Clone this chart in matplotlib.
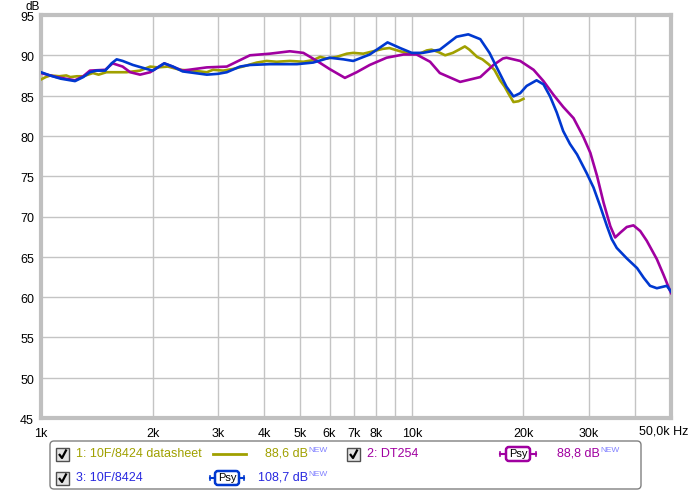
import matplotlib
matplotlib.use("Agg")
import matplotlib.pyplot as plt
import matplotlib.transforms as mtransforms
from matplotlib.patches import Rectangle, FancyBboxPatch

plt.rcParams['font.family'] = ['Liberation Sans', 'DejaVu Sans']

# --- data (frequency in Hz, level in dB) ---
datasheet_f = [1000, 1030, 1060, 1120, 1170, 1200, 1250, 1300, 1380, 1430, 1500, 1600, 1700,
               1850, 1970, 2060, 2200, 2370, 2570, 2800, 2910, 3100, 3290, 3500, 3820, 4060,
               4320, 4690, 5100, 5420, 5660, 5900, 6270, 6680, 6950, 7400, 7870, 8350, 8700,
               9300, 9900, 10500, 10970, 11300, 11800, 12300, 12900, 13400, 13900, 14300,
               15000, 15500, 16100, 16700, 17300, 17800, 18200, 18800, 19400, 20000]
datasheet_db = [87.0, 87.3, 87.5, 87.4, 87.5, 87.3, 87.4, 87.4, 87.8, 87.6, 87.9, 87.9, 87.9,
                88.1, 88.6, 88.5, 88.6, 88.2, 88.1, 87.9, 88.2, 88.1, 88.3, 88.6, 89.1, 89.3,
                89.2, 89.3, 89.2, 89.4, 89.8, 89.6, 89.8, 90.2, 90.3, 90.2, 90.5, 90.8, 90.9,
                90.5, 90.2, 90.2, 90.6, 90.7, 90.4, 90.0, 90.3, 90.7, 91.1, 90.7,
                89.8, 89.5, 88.9, 88.2, 86.9, 86.1, 85.3, 84.2, 84.3, 84.6]

dt254_f = [1000, 1100, 1235, 1300, 1355, 1490, 1560, 1660, 1740, 1850, 1970, 2150, 2410, 2800,
           3170, 3440, 3660, 4140, 4690, 5100, 5550, 6000, 6600, 7100, 7700, 8550, 9500, 10300,
           11200, 11900, 13500, 15300, 16600, 17600, 18000, 19600, 21300, 22650, 24100, 25600,
           27300, 29000, 30300, 31600, 32900, 34300, 35350, 36500, 38000, 39600, 41300, 43000,
           45800, 47700, 50000]
dt254_db = [87.8, 87.3, 86.9, 87.4, 88.1, 88.2, 89.0, 88.6, 87.9, 87.6, 87.9, 89.0, 88.1, 88.5,
            88.6, 89.4, 90.0, 90.2, 90.5, 90.3, 89.3, 88.3, 87.2, 87.9, 88.8, 89.7, 90.1, 90.1,
            89.2, 87.8, 86.7, 87.3, 88.8, 89.6, 89.7, 89.3, 88.2, 86.8, 85.1, 83.6,
            82.2, 79.9, 77.9, 75.0, 71.7, 68.8, 67.4, 68.0, 68.7, 68.9, 68.2, 67.0,
            64.7, 62.8, 60.5]

meas_f = [1000, 1057, 1130, 1235, 1300, 1355, 1410, 1490, 1550, 1600, 1660, 1770, 1930, 2000,
          2150, 2270, 2410, 2800, 3000, 3170, 3440, 3660, 4140, 4900, 5420, 6000, 6540, 6950,
          7700, 8600, 9300, 10000, 10700, 11900, 13200, 14200, 15300, 16200, 16900, 18000,
          18800, 19600, 20400, 21700, 22650, 23600, 24600, 25600, 26700, 27900, 29600, 30900,
          32200, 33600, 34600, 35700, 38000, 40500, 42200, 43900, 45800, 48700, 50000]
meas_db = [87.9, 87.5, 87.1, 86.8, 87.3, 87.9, 88.1, 88.1, 89.0, 89.5, 89.3, 88.8, 88.3, 88.1,
           89.0, 88.6, 88.0, 87.6, 87.7, 87.9, 88.6, 88.8, 88.9, 88.9, 89.1, 89.7, 89.5, 89.3,
           90.1, 91.6, 90.9, 90.3, 90.3, 90.7, 92.3, 92.6, 92.0, 90.3, 88.6, 86.1,
           84.9, 85.3, 86.2, 86.9, 86.4, 84.9, 82.9, 80.6, 79.0, 77.7, 75.4, 73.6,
           71.3, 68.8, 67.2, 66.1, 64.8, 63.6, 62.4, 61.4, 61.1, 61.4, 60.7]

grid_f = [1000, 2000, 3000, 4000, 5000, 6000, 7000, 8000, 9000, 10000, 20000, 30000, 40000, 50000]
tick_lbl = ['1k', '2k', '3k', '4k', '5k', '6k', '7k', '8k', '', '10k', '20k', '30k', '', '']
db_ticks = [45, 50, 55, 60, 65, 70, 75, 80, 85, 90, 95]

c_olive = '#a0a000'
c_mag = '#a000a0'
c_blue = '#0038d0'

fig = plt.figure(figsize=(6.9, 4.91), dpi=100)
W, H = 690.0, 491.0
ax = fig.add_axes([41 / W, 1 - 418 / H, 630 / W, 403 / H])

ax.plot(datasheet_f, datasheet_db, color=c_olive, lw=1.9, zorder=3)
ax.plot(dt254_f, dt254_db, color=c_mag, lw=1.9, zorder=4)
ax.plot(meas_f, meas_db, color=c_blue, lw=1.9, zorder=5)

ax.set_xscale('log')
ax.set_xlim(1000, 50000)
ax.set_ylim(45, 95)
ax.set_xticks(grid_f)
ax.set_xticklabels(tick_lbl)
ax.xaxis.set_minor_locator(matplotlib.ticker.NullLocator())
ax.set_yticks(db_ticks)
ax.grid(True, color='#c4c4c4', lw=1)
ax.tick_params(length=0, labelsize=9)
ax.tick_params(axis='x', pad=7)
ax.tick_params(axis='y', pad=5)
for s in ax.spines.values():
    s.set_color('#c0c0c0')
    s.set_linewidth(3)

# y labels sit a little below their grid lines in the reference
shift = mtransforms.ScaledTranslation(0, -1.5 / 100, fig.dpi_scale_trans)
for lbl in ax.get_yticklabels():
    lbl.set_transform(lbl.get_transform() + shift)

fig.text(25 / W, 1 - 0.5 / H, 'dB', fontsize=8.5, ha='left', va='top')
fig.text(688 / W, 1 - 432 / H, '50,0k Hz', fontsize=9, ha='right', va='center')

# legend panel drawn in pixel coordinates
lg = fig.add_axes([0, 0, 1, 1])
lg.set_xlim(0, W)
lg.set_ylim(H, 0)
lg.axis('off')
lg.add_patch(FancyBboxPatch((50, 441), 591, 48, boxstyle='round,pad=0,rounding_size=4',
                            fc='white', ec='#808080', lw=1))


def checkbox(x, y):
    lg.add_patch(Rectangle((x, y - 6.5), 13, 13, fc='#e4e4e4', ec='#505050', lw=1))
    lg.plot([x + 3, x + 6, x + 10.5], [y, y + 4, y - 4.5], color='black', lw=1.6,
            solid_capstyle='butt')


def psy(x0, x1, y, col):
    lg.plot([x0, x1], [y, y], color=col, lw=1.5)
    lg.plot([x0, x0], [y - 2, y + 2], color=col, lw=1.2)
    lg.plot([x1, x1], [y - 2, y + 2], color=col, lw=1.2)
    xm = (x0 + x1) / 2
    lg.add_patch(FancyBboxPatch((xm - 12, y - 7), 24, 14, boxstyle='round,pad=0,rounding_size=3',
                                fc='white', ec=col, lw=1.8, zorder=5))
    lg.text(xm, y, 'Psy', fontsize=8, ha='center', va='center', zorder=6)


def level(xr, y, txt, col):
    lg.text(xr, y, txt, fontsize=9, color=col, ha='right', va='center')
    lg.text(xr + 0.5, y - 3, 'NEW', fontsize=6, color='#8080ff', ha='left', va='center')


row1, row2 = 454, 478
checkbox(56, row1)
lg.text(76, row1, '1: 10F/8424 datasheet', fontsize=9, color=c_olive, va='center')
lg.plot([213, 246], [row1, row1], color=c_olive, lw=2)
level(308, row1, '88,6 dB', c_olive)

checkbox(56, row2)
lg.text(76, row2, '3: 10F/8424', fontsize=9, color='#2828e0', va='center')
psy(210, 244, row2, c_blue)
level(308, row2, '108,7 dB', '#2828e0')

checkbox(347, row1)
lg.text(367, row1, '2: DT254', fontsize=9, color=c_mag, va='center')
psy(500, 536, row1, c_mag)
level(600, row1, '88,8 dB', c_mag)

fig.savefig('out.png', dpi=100)
